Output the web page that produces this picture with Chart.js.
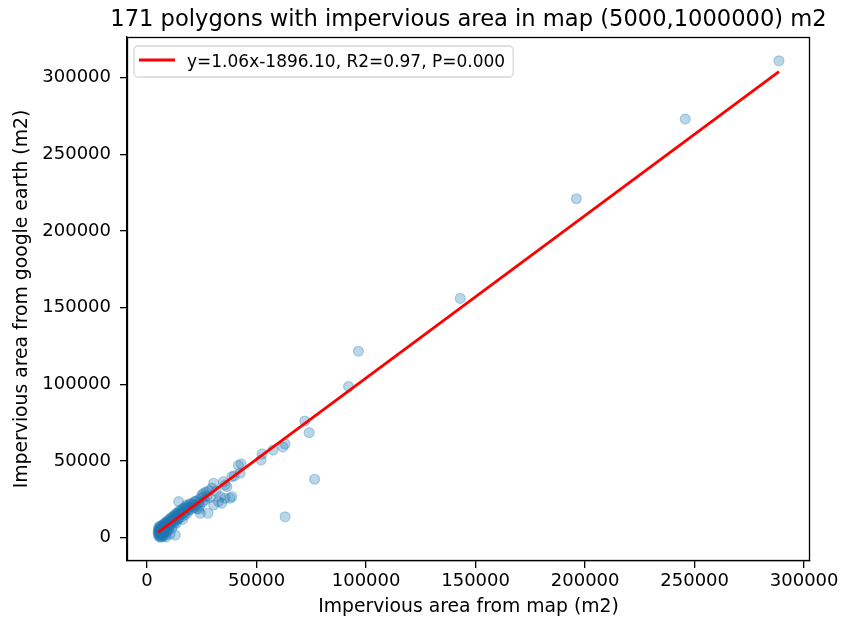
<!DOCTYPE html>
<html>
<head>
<meta charset="utf-8">
<script src="https://cdn.jsdelivr.net/npm/chart.js@4/dist/chart.umd.min.js"></script>
<style>
  html, body { margin: 0; padding: 0; background: #ffffff; }
  #plot { display: block; }
</style>
</head>
<body>
<canvas id="plot" width="841" height="623"></canvas>
<script>
// Impervious area per polygon (m2): digitised map vs. Google Earth
const mapArea = [
  288500, 245700, 196000, 143000, 96500, 92000, 72000, 74000, 76500, 63000,
  63000, 62000, 57500, 52500, 52000, 43000, 41700, 42500, 38700, 30400,
  29600, 35600, 33400, 38700, 35600, 30400, 25000, 24300, 27800, 22000,
  14400, 12900, 25800, 32600, 34100, 37900, 17400, 23500, 36400, 34900,
  31500, 39800,
  5000, 5100, 5200, 5300, 5350, 5400, 5500, 5600, 5650, 5700,
  5800, 5850, 5900, 6000, 6050, 6100, 6200, 6250, 6300, 6400,
  6450, 6500, 6600, 6650, 6700, 6800, 6850, 6900, 7000, 7000,
  7100, 7200, 7300, 7350, 7400, 7500, 7600, 7650, 7700, 7800,
  7900, 8000, 8050, 8100, 8200, 8300, 8400, 8450, 8500, 8600,
  8700, 8800, 8900, 9000, 9100, 9200, 9300, 9400, 9500, 9700,
  9900, 10100, 10200, 10400, 10500, 10600, 10800, 10900, 11000, 11200,
  11300, 11500, 11600, 11800, 12000, 12200, 12300, 12500, 12700, 12800,
  13000, 13200, 13400, 13500, 13700, 13800, 14000, 14200,
  14500, 14700, 14900, 15100, 15300, 15600, 15800, 16000, 16200, 16500,
  16700, 17000, 17200, 17500, 17800, 18000, 18300, 18500, 18800, 19100,
  19400, 19700, 20000, 20300, 20600,
  21000, 21400, 21800, 22300, 22700, 23100, 23600, 24000, 24500, 25200,
  25700, 26300, 26900, 27400, 28200, 28800
];
const earthArea = [
  311000, 273000, 221000, 156000, 121500, 98500, 76000, 68400, 38000, 13500,
  61000, 59000, 57000, 54500, 50500, 48000, 47000, 42000, 39700, 35400,
  32100, 34300, 26600, 26600, 25600, 21200, 27700, 15800, 15800, 23400,
  23400, 1600, 28900, 23400, 22300, 25600, 16800, 18500, 33200, 36400,
  30200, 40200,
  3900, 2600, 5600, 1200, 4300, 7000, 3100, 400, 5100, 2200,
  6200, 3700, 800, 4600, 2900, 7400, 5300, 1900, 3800, 6500,
  200, 4900, 2500, 5900, 3300, 7800, 1400, 4400, 6100, 2000,
  5200, 3500, 8300, 700, 6400, 4100, 7100, 2700, 5600, 9000,
  4800, 6800, 1300, 8100, 5700, 3200, 9500, 7300, 6100, 300,
  8600, 5000, 10200, 7800, 3600, 9100, 6700, 11000, 8400, 5400,
  9900, 7300, 11600, 9000, 2200, 10600, 12400, 8100, 10000, 13300,
  6000, 11500, 9400, 12900, 10700, 14100, 8300, 12200, 13800, 10900,
  15200, 12300, 9600, 14300, 16100, 11600, 13400, 15700,
  12600, 17300, 14700, 16000, 13100, 18200, 15300, 17100, 11800, 19000,
  16300, 18100, 14600, 19800, 17600, 21100, 16000, 19300, 20600, 17900,
  21900, 19700, 18400, 22100, 20300,
  21600, 19500, 23500, 21000, 18900, 24200, 22600, 20500, 25800, 23000,
  26300, 24400, 29600, 27000, 30500, 26100
];

// Linear fit reported for the sample
const fitSlope = 1.06;
const fitIntercept = -1896.10;
const fitR2 = 0.97;
const fitP = 0.000;

// Axis tick values
const xTicks = [0, 50000, 100000, 150000, 200000, 250000, 300000];
const yTicks = [0, 50000, 100000, 150000, 200000, 250000, 300000];

const titleText = '171 polygons with impervious area in map (5000,1000000) m2';
const xLabel = 'Impervious area from map (m2)';
const yLabel = 'Impervious area from google earth (m2)';

const FONT = 'DejaVu Sans';
const scatterPoints = mapArea.map((x, i) => ({ x: x, y: earthArea[i] }));

const xMinData = Math.min(...mapArea);
const xMaxData = Math.max(...mapArea);
const fitLine = [xMinData, xMaxData].map(x => ({ x: x, y: fitSlope * x + fitIntercept }));

const fitLabel = 'y=' + fitSlope.toFixed(2) + 'x' + (fitIntercept < 0 ? '-' : '+') +
  Math.abs(fitIntercept).toFixed(2) + ', R2=' + fitR2.toFixed(2) + ', P=' + fitP.toFixed(3);

// 5% data margins on each axis
function withMargin(values) {
  const lo = Math.min(...values), hi = Math.max(...values);
  const m = (hi - lo) * 0.05;
  return [lo - m, hi + m];
}
const xLim = withMargin(mapArea.concat(fitLine.map(p => p.x)));
const yLim = withMargin(earthArea.concat(fitLine.map(p => p.y)));

// Frame, title and legend box drawn on top of the plot
const decorations = {
  id: 'decorations',
  afterDraw(chart) {
    const ctx = chart.ctx;
    const a = chart.chartArea;
    ctx.save();
    // axes frame
    ctx.strokeStyle = '#000';
    ctx.lineWidth = 1.3;
    ctx.strokeRect(Math.round(a.left) + 0.5, Math.round(a.top) + 0.5,
      Math.round(a.right - a.left) - 1, Math.round(a.bottom - a.top) - 1);

    // title
    ctx.fillStyle = '#000';
    ctx.font = '22.6px "' + FONT + '"';
    ctx.textAlign = 'center';
    ctx.textBaseline = 'alphabetic';
    ctx.fillText(titleText, (a.left + a.right) / 2, a.top - 11);

    // legend
    ctx.font = '17px "' + FONT + '"';
    const tw = ctx.measureText(fitLabel).width;
    const bx = a.left + 7, by = a.top + 9;
    const bw = 53 + tw + 8, bh = 31, r = 4;
    ctx.beginPath();
    ctx.moveTo(bx + r, by);
    ctx.arcTo(bx + bw, by, bx + bw, by + bh, r);
    ctx.arcTo(bx + bw, by + bh, bx, by + bh, r);
    ctx.arcTo(bx, by + bh, bx, by, r);
    ctx.arcTo(bx, by, bx + bw, by, r);
    ctx.closePath();
    ctx.fillStyle = 'rgba(255,255,255,0.8)';
    ctx.fill();
    ctx.strokeStyle = 'rgba(204,204,204,0.8)';
    ctx.lineWidth = 1.3;
    ctx.stroke();

    ctx.strokeStyle = 'red';
    ctx.lineWidth = 2.8;
    ctx.beginPath();
    ctx.moveTo(bx + 5, by + 14);
    ctx.lineTo(bx + 41, by + 14);
    ctx.stroke();

    ctx.fillStyle = '#000';
    ctx.textAlign = 'left';
    ctx.fillText(fitLabel, bx + 53, by + 20.5);
    ctx.restore();
  }
};

Chart.defaults.font.family = FONT;
Chart.defaults.color = '#000';

new Chart(document.getElementById('plot'), {
  type: 'scatter',
  data: {
    datasets: [
      {
        type: 'line',
        label: fitLabel,
        data: fitLine,
        borderColor: 'red',
        borderWidth: 2.8,
        pointRadius: 0,
        fill: false,
        tension: 0,
        order: 0
      },
      {
        type: 'scatter',
        label: 'polygons',
        data: scatterPoints,
        backgroundColor: 'rgba(31,119,180,0.3)',
        borderColor: 'rgba(31,119,180,0.3)',
        borderWidth: 1.2,
        pointRadius: 5,
        order: 1
      }
    ]
  },
  options: {
    responsive: false,
    animation: false,
    devicePixelRatio: 1,
    layout: { padding: { top: 37, right: 31, left: 0, bottom: 0 } },
    plugins: {
      legend: { display: false },
      tooltip: { enabled: false },
      title: { display: false }
    },
    scales: {
      x: {
        type: 'linear',
        min: xLim[0],
        max: xLim[1],
        afterBuildTicks: s => { s.ticks = xTicks.map(v => ({ value: v })); },
        afterFit: s => { s.height = 62; s.paddingLeft = 0; s.paddingRight = 0; },
        grid: { display: true, drawOnChartArea: false, drawTicks: true, tickLength: 7, color: '#000', lineWidth: 1.3 },
        border: { display: true, color: '#000', width: 1.3 },
        ticks: { callback: v => String(v), font: { size: 18 }, padding: 3, maxRotation: 0, autoSkip: false },
        title: { display: true, text: xLabel, font: { size: 18.8 }, padding: { top: 0, bottom: 5 } }
      },
      y: {
        type: 'linear',
        min: yLim[0],
        max: yLim[1],
        afterBuildTicks: s => { s.ticks = yTicks.map(v => ({ value: v })); },
        afterFit: s => { s.width = 127; s.paddingTop = 0; s.paddingBottom = 0; },
        grid: { display: true, drawOnChartArea: false, drawTicks: true, tickLength: 7, color: '#000', lineWidth: 1.3 },
        border: { display: true, color: '#000', width: 1.3 },
        ticks: { callback: v => String(v), font: { size: 18 }, padding: 9, autoSkip: false },
        title: { display: true, text: yLabel, font: { size: 18.8 }, padding: { top: 10.5, bottom: 0 } }
      }
    }
  },
  plugins: [decorations]
});
</script>
</body>
</html>
